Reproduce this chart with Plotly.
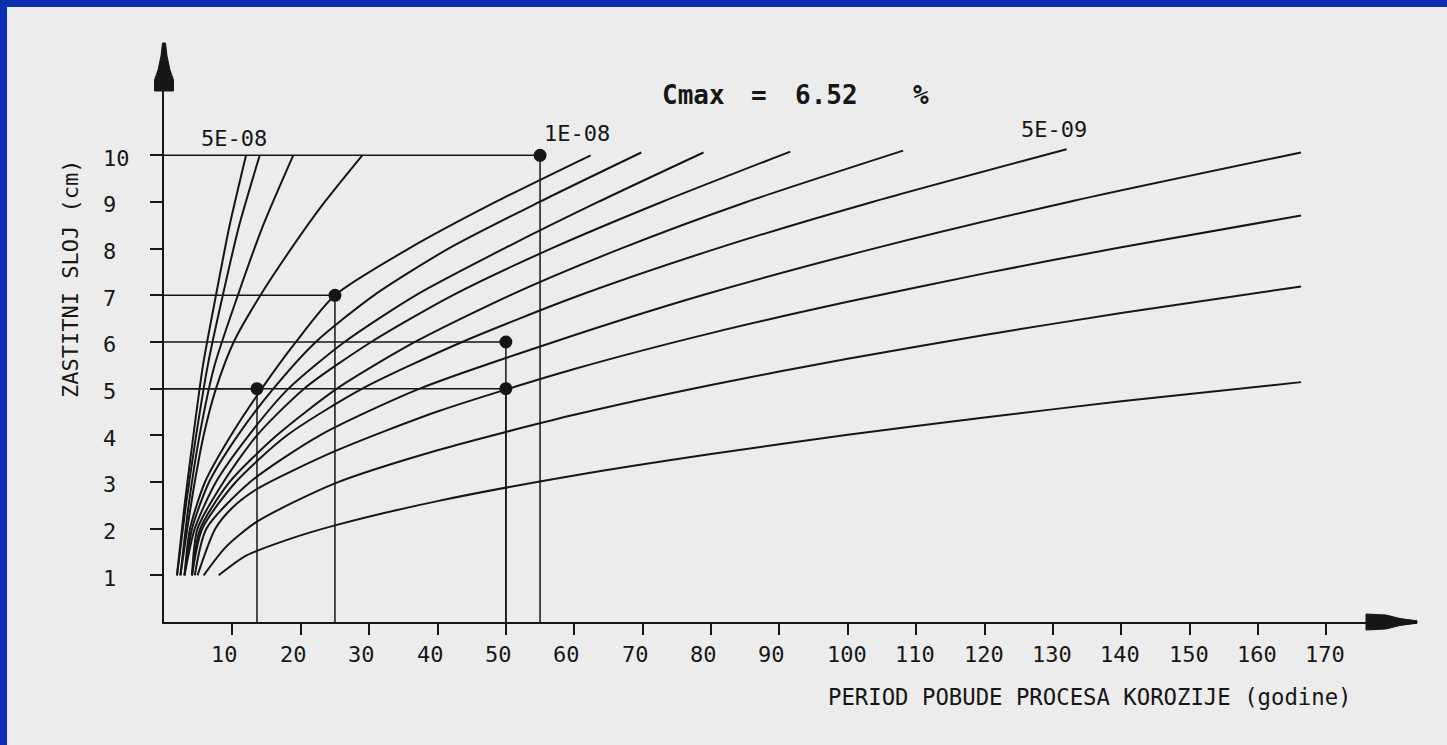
import plotly.graph_objects as go

# ---------------- data ----------------
# x = period (years), y = protective layer (cm); one curve per diffusion coefficient
d5e8_x = [1.9, 3.0, 4.3, 5.7, 7.6, 9.6, 12.0]
d5e8_y = [1.0, 2.5, 4.0, 5.5, 7.0, 8.5, 10.0]
d4e8_x = [1.9, 3.2, 4.7, 6.4, 8.6, 11.0, 14.0]
d4e8_y = [1.0, 2.5, 4.0, 5.5, 7.0, 8.5, 10.0]
d3e8_x = [2.4, 3.6, 5.2, 7.4, 10.8, 14.5, 18.9]
d3e8_y = [1.0, 2.5, 4.0, 5.5, 7.0, 8.5, 10.0]
d2e8_x = [2.4, 3.4, 4.5, 5.8, 7.6, 10.2, 14.1, 18.6, 23.5, 29.0]
d2e8_y = [1.0, 2.0, 3.0, 4.0, 5.0, 6.0, 7.0, 8.0, 9.0, 10.0]
d1e8_x = [3.0, 3.8, 6.0, 9.8, 14.3, 19.3, 25.0, 35.8, 48.5, 62.4]
d1e8_y = [1.0, 2.0, 3.0, 4.0, 5.0, 6.0, 7.0, 8.0, 9.0, 10.0]
d9e9_x = [3.0, 4.1, 6.6, 10.8, 16.0, 22.2, 30.7, 41.6, 54.9, 69.8]
d9e9_y = [1.0, 2.0, 3.0, 4.0, 5.0, 6.0, 7.0, 8.0, 9.0, 10.06]
d8e9_x = [3.0, 4.5, 7.6, 12.4, 18.2, 26.4, 36.8, 49.7, 63.5, 78.9]
d8e9_y = [1.0, 2.0, 3.0, 4.0, 5.0, 6.0, 7.0, 8.0, 9.0, 10.06]
d7e9_x = [4.1, 4.9, 8.7, 13.6, 20.5, 30.3, 42.2, 56.6, 72.8, 91.6]
d7e9_y = [1.0, 2.0, 3.0, 4.0, 5.0, 6.0, 7.0, 8.0, 9.0, 10.08]
d6e9_x = [4.1, 5.3, 9.6, 16.5, 25.3, 36.7, 50.6, 66.8, 85.2, 108.1]
d6e9_y = [1.0, 2.0, 3.0, 4.0, 5.0, 6.0, 7.0, 8.0, 9.0, 10.1]
d5e9_x = [4.1, 5.6, 10.5, 18.0, 29.0, 43.6, 60.8, 80.8, 103.6, 132.0]
d5e9_y = [1.0, 2.0, 3.0, 4.0, 5.0, 6.0, 7.0, 8.0, 9.0, 10.13]
d4e9_x = [4.5, 6.2, 12.6, 22.8, 37.4, 57.0, 78.7, 103.8, 132.3, 166.3]
d4e9_y = [1.0, 2.0, 3.0, 4.0, 5.0, 6.0, 7.0, 8.0, 9.0, 10.06]
d3e9_x = [4.9, 7.5, 10.0, 13.6, 25.0, 40.0, 60.0, 80.0, 100.0, 120.0, 140.0, 166.3]
d3e9_y = [1.0, 2.0, 2.45, 2.85, 3.66, 4.51, 5.42, 6.19, 6.86, 7.47, 8.03, 8.71]
d2e9_x = [5.8, 9.0, 13.6, 25.0, 40.0, 60.0, 80.0, 100.0, 120.0, 140.0, 166.3]
d2e9_y = [1.0, 1.6, 2.15, 2.97, 3.68, 4.44, 5.08, 5.64, 6.15, 6.62, 7.19]
d1e9_x = [8.0, 12.0, 18.0, 25.0, 40.0, 60.0, 80.0, 100.0, 120.0, 140.0, 166.3]
d1e9_y = [1.0, 1.42, 1.76, 2.07, 2.59, 3.14, 3.60, 4.01, 4.38, 4.73, 5.14]

# marked read-off points
mark_x = [55, 25, 50, 50, 13.6]
mark_y = [10, 7, 6, 5, 5]

x_ticks = [10, 20, 30, 40, 50, 60, 70, 80, 90, 100, 110, 120, 130, 140, 150, 160, 170]
y_ticks = [1, 2, 3, 4, 5, 6, 7, 8, 9, 10]

curve_labels = ["5E-08", "1E-08", "5E-09"]
curve_label_x = [5.1, 55.3, 125.1]
curve_label_y = [10.36, 10.46, 10.55]

title_parts = ["Cmax", "=", "6.52", "%"]
title_part_x = [72.6, 85.5, 92.0, 109.3]
title_y = 11.3

x_title = "PERIOD POBUDE PROCESA KOROZIJE (godine)"
y_title = "ZASTITNI SLOJ (cm)"

# ---------------- style ----------------
INK = "#161616"
BG = "#ececec"
BLUE = "#0b2fae"
FONT = "DejaVu Sans Mono"
W, H = 1447, 745
ML, MR, MT, MB = 164, 30, 43, 123
PW, PH = W - ML - MR, H - MT - MB
XMAX = PW / 6.8375
YMAX = PH / 46.67

fig = go.Figure()

curves = [
    (d5e8_x, d5e8_y), (d4e8_x, d4e8_y), (d3e8_x, d3e8_y), (d2e8_x, d2e8_y),
    (d1e8_x, d1e8_y), (d9e9_x, d9e9_y), (d8e9_x, d8e9_y), (d7e9_x, d7e9_y),
    (d6e9_x, d6e9_y), (d5e9_x, d5e9_y), (d4e9_x, d4e9_y), (d3e9_x, d3e9_y),
    (d2e9_x, d2e9_y), (d1e9_x, d1e9_y),
]
for cx, cy in curves:
    fig.add_trace(go.Scatter(x=cx, y=cy, mode="lines",
                             line=dict(color=INK, width=2, shape="spline", smoothing=0.7),
                             hoverinfo="skip", showlegend=False))

# guide lines from the marked points to the axes
hx, hy, vx, vy = [], [], [], []
for mx, my in zip(mark_x, mark_y):
    hx += [0, mx, None]
    hy += [my, my, None]
    vx += [mx, mx, None]
    vy += [0, my, None]
fig.add_trace(go.Scatter(x=hx, y=hy, mode="lines", line=dict(color=INK, width=1.5),
                         hoverinfo="skip", showlegend=False))
fig.add_trace(go.Scatter(x=vx, y=vy, mode="lines", line=dict(color=INK, width=1.5),
                         hoverinfo="skip", showlegend=False))
fig.add_trace(go.Scatter(x=mark_x, y=mark_y, mode="markers",
                         marker=dict(color=INK, size=13), hoverinfo="skip", showlegend=False))

ann = []
for v in x_ticks:
    ann.append(dict(x=v, y=0, xref="x", yref="y", text=str(v), showarrow=False,
                    xanchor="left", yanchor="middle", xshift=-23, yshift=-32,
                    font=dict(family=FONT, size=22, color=INK)))
for v in y_ticks:
    ann.append(dict(x=0, y=v, xref="x", yref="y", text=str(v), showarrow=False,
                    xanchor="left", yanchor="middle", xshift=-63, yshift=-3,
                    font=dict(family=FONT, size=22, color=INK)))
for t, lx, ly in zip(curve_labels, curve_label_x, curve_label_y):
    ann.append(dict(x=lx, y=ly, xref="x", yref="y", text=t, showarrow=False,
                    xanchor="left", yanchor="middle",
                    font=dict(family=FONT, size=22, color=INK)))
for t, lx in zip(title_parts, title_part_x):
    ann.append(dict(x=lx, y=title_y, xref="x", yref="y", text="<b>" + t + "</b>",
                    showarrow=False, xanchor="left", yanchor="middle",
                    font=dict(family=FONT, size=26, color=INK)))
ann.append(dict(x=(826 - ML) / PW, y=(H - MB - 697) / PH, xref="paper", yref="paper",
                text=x_title, showarrow=False, xanchor="left", yanchor="middle",
                font=dict(family=FONT, size=22.3, color=INK)))
ann.append(dict(x=(70 - ML) / PW, y=(H - MB - 279) / PH, xref="paper", yref="paper",
                text=y_title, showarrow=False, textangle=-90, xanchor="center",
                yanchor="middle", font=dict(family=FONT, size=22, color=INK)))


def px(p):
    return (p - ML) / PW


def py(p):
    return (H - MB - p) / PH


shapes = [
    # blue frame on the left and top
    dict(type="rect", xref="paper", yref="paper", x0=px(-2), x1=px(7), y0=py(H + 2), y1=py(-2),
         fillcolor=BLUE, line=dict(width=0), layer="above"),
    dict(type="rect", xref="paper", yref="paper", x0=px(-2), x1=px(W + 2), y0=py(7), y1=py(-2),
         fillcolor=BLUE, line=dict(width=0), layer="above"),
]
# arrow heads at the ends of the axes
ay = H - MB
xa = (f"M {px(1366)},{py(ay-8)} L {px(1386)},{py(ay-7)} L {px(1400)},{py(ay-3.5)} "
      f"L {px(1417)},{py(ay-1.2)} L {px(1417)},{py(ay+1.2)} L {px(1400)},{py(ay+3.5)} "
      f"L {px(1386)},{py(ay+7)} L {px(1366)},{py(ay+8)} Z")
ya = (f"M {px(ML-9.5)},{py(91)} L {px(ML-9.5)},{py(80)} L {px(ML-6)},{py(70)} "
      f"L {px(ML-3)},{py(56)} L {px(ML-1.5)},{py(43)} L {px(ML+1.5)},{py(43)} "
      f"L {px(ML+3)},{py(56)} L {px(ML+6)},{py(70)} L {px(ML+9.5)},{py(80)} "
      f"L {px(ML+9.5)},{py(91)} Z")
shapes.append(dict(type="path", xref="paper", yref="paper", path=xa, fillcolor=INK,
                   line=dict(color=INK, width=1)))
shapes.append(dict(type="path", xref="paper", yref="paper", path=ya, fillcolor=INK,
                   line=dict(color=INK, width=1)))

fig.update_layout(
    width=W, height=H, autosize=False,
    margin=dict(l=ML, r=MR, t=MT, b=MB, pad=0),
    paper_bgcolor=BG, plot_bgcolor=BG, showlegend=False,
    annotations=ann, shapes=shapes,
    xaxis=dict(range=[0, XMAX], showgrid=False, zeroline=False, showline=True,
               linecolor=INK, linewidth=2, ticks="outside", ticklen=11, tickwidth=2,
               tickcolor=INK, tickvals=x_ticks, showticklabels=False, fixedrange=True),
    yaxis=dict(range=[0, YMAX], showgrid=False, zeroline=False, showline=True,
               linecolor=INK, linewidth=2, ticks="outside", ticklen=12, tickwidth=2,
               tickcolor=INK, tickvals=y_ticks, showticklabels=False, fixedrange=True),
)

fig.write_html("out.html", config={"displayModeBar": False},
               post_script="document.body.style.margin='0';"
                           "document.body.style.overflow='hidden';"
                           "document.body.style.background='" + BG + "';")
